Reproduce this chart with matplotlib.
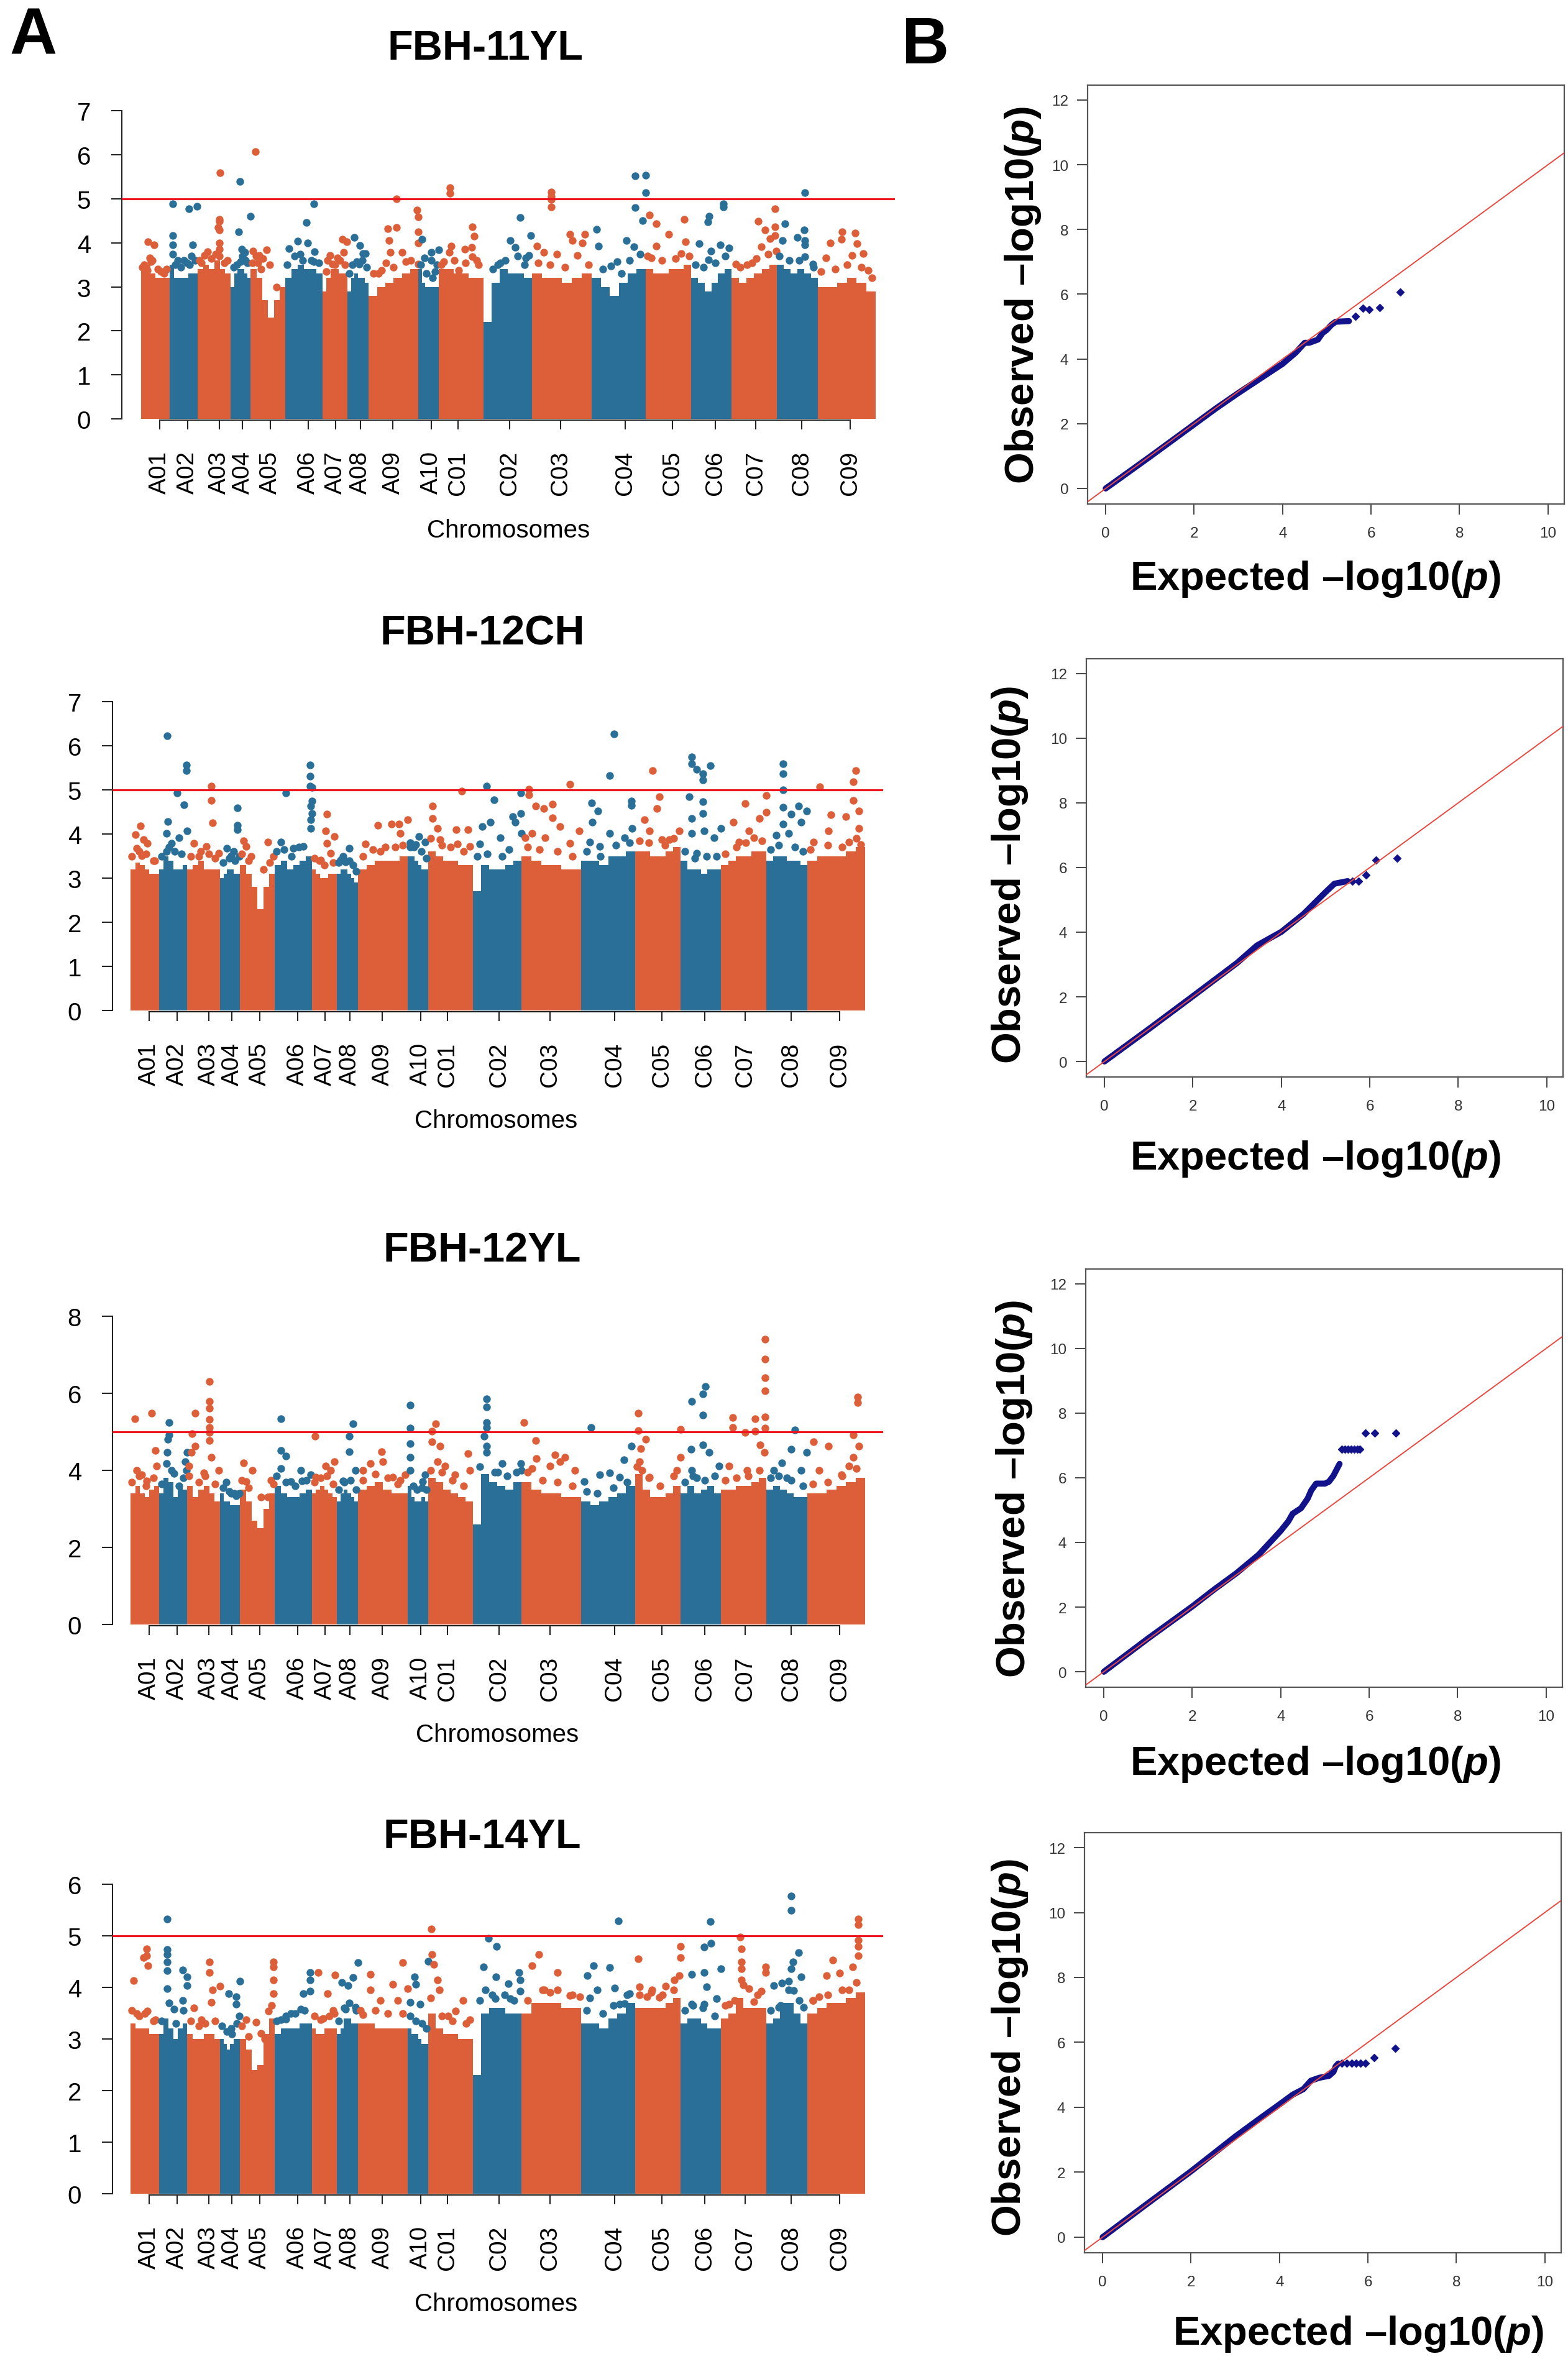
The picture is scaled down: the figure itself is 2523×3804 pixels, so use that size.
import numpy as np
import matplotlib
matplotlib.use("Agg")
import matplotlib.pyplot as plt

plt.rcParams['font.family'] = ['Liberation Sans', 'DejaVu Sans']
plt.rcParams['mathtext.fontset'] = 'custom'
plt.rcParams['mathtext.it'] = 'Liberation Sans:italic:bold'
plt.rcParams['mathtext.rm'] = 'Liberation Sans:bold'

# ---------------- data ----------------
chromosomes = ["A01", "A02", "A03", "A04", "A05", "A06", "A07", "A08", "A09", "A10",
               "C01", "C02", "C03", "C04", "C05", "C06", "C07", "C08", "C09"]
chrom_width = [57, 57, 66, 40, 70, 74, 50, 43, 100, 41, 89, 98, 120, 108, 92, 80, 92, 82, 116]
chrom_tick = [37, 94, 157, 204, 260, 336, 390, 440, 506, 583, 637, 740, 842, 972, 1067, 1153, 1234, 1326, 1424]

traits = ["FBH-11YL", "FBH-12CH", "FBH-12YL", "FBH-14YL"]
y_max = [7, 7, 8, 6]
y_step = [1, 1, 2, 1]
threshold = 5

# height of the dense SNP mass of each chromosome (-log10 p), read in 6 equal bins
body_11YL = [
    [3.4, 3.5, 3.3, 3.2, 3.2, 3.2], [3.5, 3.2, 3.2, 3.2, 3.3, 3.3], [3.4, 3.5, 3.4, 3.6, 3.4, 3.3],
    [3.0, 3.3, 3.4, 3.4, 3.3, 3.2], [3.4, 3.2, 2.7, 2.3, 2.7, 3.0], [3.2, 3.4, 3.5, 3.4, 3.4, 3.3],
    [2.9, 3.2, 3.4, 3.4, 3.3, 3.3], [2.9, 3.2, 3.3, 3.2, 3.2, 3.1], [2.8, 3.0, 3.1, 3.2, 3.3, 3.4],
    [3.4, 3.1, 3.0, 3.0, 3.0, 3.0], [3.4, 3.4, 3.3, 3.3, 3.2, 3.2], [2.2, 3.1, 3.4, 3.3, 3.3, 3.2],
    [3.3, 3.2, 3.2, 3.1, 3.2, 3.3], [3.2, 3.0, 2.8, 3.1, 3.3, 3.4], [3.4, 3.3, 3.3, 3.4, 3.4, 3.5],
    [3.2, 3.1, 2.9, 3.1, 3.3, 3.4], [3.2, 3.1, 3.2, 3.3, 3.4, 3.5], [3.5, 3.4, 3.3, 3.4, 3.3, 3.2],
    [3.0, 3.0, 3.1, 3.2, 3.1, 2.9]]
body_12CH = [
    [3.2, 3.35, 3.3, 3.2, 3.1, 3.1], [3.2, 3.5, 3.4, 3.2, 3.2, 3.3], [3.2, 3.3, 3.4, 3.2, 3.2, 3.2],
    [3.0, 3.1, 3.2, 3.2, 3.1, 3.1], [3.3, 3.1, 2.8, 2.3, 2.8, 3.1], [3.3, 3.4, 3.2, 3.3, 3.4, 3.5],
    [3.2, 3.1, 3.0, 3.0, 3.1, 3.1], [3.1, 3.2, 3.2, 3.1, 3.0, 2.9], [3.2, 3.3, 3.4, 3.4, 3.4, 3.5],
    [3.5, 3.5, 3.4, 3.3, 3.2, 3.2], [3.6, 3.5, 3.4, 3.4, 3.3, 3.3], [2.7, 3.3, 3.2, 3.2, 3.3, 3.4],
    [3.5, 3.4, 3.3, 3.3, 3.2, 3.2], [3.4, 3.4, 3.3, 3.5, 3.5, 3.6], [3.6, 3.6, 3.5, 3.5, 3.6, 3.7],
    [3.4, 3.2, 3.2, 3.1, 3.2, 3.2], [3.3, 3.4, 3.5, 3.5, 3.6, 3.6], [3.4, 3.5, 3.5, 3.4, 3.4, 3.3],
    [3.4, 3.5, 3.5, 3.5, 3.6, 3.7]]
body_12YL = [
    [3.4, 3.6, 3.4, 3.3, 3.5, 3.6], [3.4, 3.8, 3.7, 3.3, 3.6, 3.5], [3.6, 3.3, 3.5, 3.6, 3.4, 3.2],
    [3.4, 3.2, 3.2, 3.1, 3.1, 3.1], [3.5, 3.2, 2.7, 2.5, 3.0, 3.4], [3.6, 3.4, 3.3, 3.3, 3.4, 3.5],
    [3.4, 3.5, 3.6, 3.5, 3.4, 3.3], [3.2, 3.4, 3.5, 3.4, 3.3, 3.2], [3.5, 3.6, 3.7, 3.5, 3.4, 3.4],
    [3.6, 3.3, 3.2, 3.2, 3.3, 3.2], [3.8, 3.7, 3.5, 3.4, 3.3, 3.2], [2.6, 3.9, 3.7, 3.6, 3.5, 3.7],
    [3.7, 3.5, 3.4, 3.4, 3.3, 3.3], [3.2, 3.1, 3.2, 3.3, 3.4, 3.6], [3.9, 3.5, 3.3, 3.3, 3.4, 3.6],
    [3.4, 3.6, 3.4, 3.5, 3.6, 3.4], [3.5, 3.5, 3.6, 3.6, 3.7, 3.8], [3.5, 3.6, 3.5, 3.4, 3.3, 3.3],
    [3.4, 3.4, 3.5, 3.6, 3.7, 3.8]]
body_14YL = [
    [3.3, 3.2, 3.2, 3.2, 3.1, 3.1], [3.1, 3.4, 3.2, 3.0, 3.2, 3.3], [3.1, 3.0, 3.0, 3.1, 3.1, 3.0],
    [3.0, 2.9, 2.8, 2.9, 3.0, 3.0], [3.0, 2.8, 2.4, 2.5, 3.1, 3.4], [3.1, 3.2, 3.2, 3.2, 3.3, 3.3],
    [3.2, 3.1, 3.1, 3.2, 3.2, 3.2], [3.1, 3.2, 3.4, 3.4, 3.3, 3.3], [3.3, 3.3, 3.2, 3.2, 3.2, 3.2],
    [3.2, 3.1, 3.1, 3.0, 2.9, 2.9], [3.5, 3.2, 3.1, 3.1, 3.0, 3.0], [2.3, 3.5, 3.6, 3.6, 3.5, 3.5],
    [3.5, 3.7, 3.7, 3.7, 3.6, 3.6], [3.3, 3.3, 3.2, 3.4, 3.5, 3.7], [3.6, 3.6, 3.6, 3.6, 3.7, 3.8],
    [3.3, 3.4, 3.4, 3.3, 3.2, 3.2], [3.4, 3.5, 3.8, 3.6, 3.6, 3.6], [3.3, 3.4, 3.7, 3.7, 3.5, 3.3],
    [3.5, 3.6, 3.7, 3.7, 3.8, 3.9]]

# individual SNPs standing out above the dense mass: (relative position in chromosome, -log10 p)
hits_11YL = {
    "A01": [(0.25, 4.03), (0.47, 3.96), (0.3, 3.66), (0.34, 3.57), (0.21, 3.37), (0.1, 3.5), (0.6, 3.4), (0.8, 3.3)],
    "A02": [(0.12, 4.88), (0.12, 4.16), (0.12, 3.95), (0.12, 3.75), (0.68, 4.78), (0.98, 4.83), (0.5, 3.6), (0.62, 3.55), (0.82, 3.95), (0.9, 3.6), (0.4, 3.45)],
    "A03": [(0.68, 5.59), (0.65, 4.54), (0.66, 4.49), (0.62, 4.35), (0.65, 4.3), (0.66, 4.0), (0.65, 3.86), (0.66, 3.7), (0.2, 3.71), (0.1, 3.55), (0.9, 3.6), (0.4, 3.65)],
    "A04": [(0.45, 5.39), (0.98, 4.61), (0.4, 4.25), (0.7, 3.79), (0.49, 3.57), (0.74, 3.6), (0.3, 3.5)],
    "A05": [(0.13, 6.08), (0.07, 3.81), (0.25, 3.71), (0.46, 3.84), (0.36, 3.64), (0.2, 3.55), (0.55, 3.5)],
    "A06": [(0.77, 4.89), (0.57, 4.47), (0.33, 4.04), (0.6, 4.0), (0.1, 3.87), (0.79, 3.8), (0.47, 3.6), (0.77, 3.57), (0.25, 3.7)],
    "A07": [(0.8, 4.08), (0.99, 4.03), (0.3, 3.71), (0.6, 3.66), (0.85, 3.79), (0.4, 3.52), (0.2, 3.6)],
    "A08": [(0.34, 4.13), (0.6, 3.94), (0.74, 3.76), (0.85, 3.76), (0.45, 3.57), (0.57, 3.52)],
    "A09": [(0.56, 5.0), (0.38, 4.32), (0.56, 4.35), (0.41, 4.05), (0.44, 3.79), (0.67, 3.79), (0.97, 4.75), (0.99, 4.59), (0.99, 4.25), (0.99, 4.0), (0.99, 3.52), (0.75, 3.57), (0.26, 3.37), (0.1, 3.3)],
    "A10": [(0.16, 4.08), (0.29, 3.66), (0.63, 3.79), (0.99, 3.84), (0.63, 3.6), (0.69, 3.2)],
    "C01": [(0.25, 5.25), (0.25, 5.13), (0.75, 4.36), (0.8, 4.15), (0.28, 3.93), (0.24, 3.79), (0.58, 3.86), (0.74, 3.9), (0.75, 3.69), (0.11, 3.57), (0.44, 3.37), (0.9, 3.5)],
    "C02": [(0.76, 4.58), (0.98, 4.17), (0.55, 4.05), (0.65, 3.9), (0.87, 3.66), (0.94, 3.71), (0.45, 3.6), (0.3, 3.5)],
    "C03": [(0.32, 5.15), (0.32, 5.05), (0.32, 4.98), (0.32, 4.81), (0.63, 4.2), (0.88, 4.2), (0.42, 3.74), (0.08, 3.93), (0.2, 3.79), (0.84, 4.0), (0.68, 4.05), (0.76, 3.71)],
    "C04": [(0.81, 5.52), (1.0, 5.53), (1.0, 5.14), (0.81, 4.8), (0.94, 4.5), (0.09, 4.31), (0.65, 4.06), (0.78, 3.91), (0.12, 3.93), (0.47, 3.57), (0.35, 3.47)],
    "C05": [(0.08, 4.63), (0.23, 4.43), (0.85, 4.54), (0.51, 4.2), (0.87, 4.03), (0.23, 3.93), (0.78, 3.76), (0.12, 3.66)],
    "C06": [(0.81, 4.88), (0.81, 4.81), (0.44, 4.6), (0.41, 4.48), (0.2, 3.98), (0.73, 3.96), (0.94, 3.88), (0.49, 3.81), (0.43, 3.62)],
    "C07": [(0.96, 4.77), (0.59, 4.49), (0.96, 4.36), (0.74, 4.3), (0.96, 4.16), (0.85, 4.1), (0.98, 3.81), (0.66, 3.91), (0.45, 3.54), (0.1, 3.52)],
    "C08": [(0.68, 5.14), (0.2, 4.44), (0.67, 4.3), (0.49, 4.13), (0.68, 4.05), (0.68, 3.96), (0.13, 4.05), (0.68, 3.69), (0.87, 3.52)],
    "C09": [(0.64, 4.23), (0.42, 4.25), (0.41, 4.08), (0.22, 4.0), (0.68, 3.98), (0.79, 3.76), (0.59, 3.71), (0.14, 3.66), (0.87, 3.37), (0.94, 3.2)],
}
hits_12CH = {
    "A01": [(0.35, 4.18), (0.18, 3.98), (0.47, 3.87), (0.6, 3.79), (0.21, 3.67), (0.39, 3.51), (0.8, 3.4)],
    "A02": [(0.30, 6.22), (0.65, 4.93), (0.88, 4.66), (0.98, 5.56), (0.98, 5.43), (0.32, 4.28), (0.26, 4.02), (0.44, 3.79), (0.7, 3.92), (0.99, 4.07), (0.26, 3.61)],
    "A03": [(0.73, 5.09), (0.73, 4.76), (0.76, 4.25), (0.2, 3.79), (0.58, 3.72), (0.95, 3.56), (0.35, 3.5)],
    "A04": [(0.88, 4.59), (0.88, 4.2), (0.88, 4.1), (0.35, 3.67), (0.68, 3.61), (0.55, 3.51)],
    "A05": [(0.1, 3.84), (0.17, 3.72), (0.79, 3.82), (0.67, 3.2), (0.31, 3.5)],
    "A06": [(0.95, 5.57), (0.95, 5.31), (0.95, 5.08), (1.0, 5.06), (0.3, 4.93), (1.0, 4.74), (0.97, 4.63), (1.0, 4.47), (0.97, 4.32), (0.97, 4.12), (0.16, 3.82), (0.5, 3.67), (0.77, 3.72)],
    "A07": [(0.6, 4.45), (0.56, 4.07), (0.9, 3.94), (0.6, 3.79), (0.76, 3.56), (0.36, 3.41)],
    "A08": [(0.58, 3.67), (0.19, 3.41), (0.42, 3.36), (0.77, 3.3)],
    "A09": [(1.0, 4.32), (0.82, 4.23), (0.67, 4.22), (0.4, 4.2), (0.85, 4.02), (0.15, 3.77), (0.45, 3.61), (0.75, 3.71)],
    "A10": [(0.54, 3.94), (0.85, 3.82), (0.12, 3.71), (0.37, 3.76)],
    "C01": [(0.75, 4.97), (0.1, 4.64), (0.1, 4.35), (0.63, 4.1), (0.9, 4.1), (0.21, 4.12), (0.66, 3.77), (0.94, 3.72), (0.27, 3.87)],
    "C02": [(0.29, 5.08), (0.44, 4.78), (0.99, 4.93), (0.99, 4.47), (0.82, 4.4), (0.87, 4.27), (0.2, 4.17), (0.36, 4.27), (1.0, 4.02), (0.56, 3.92), (0.15, 3.77)],
    "C03": [(0.12, 5.01), (0.12, 4.89), (0.81, 5.12), (0.24, 4.63), (0.37, 4.58), (0.52, 4.68), (0.52, 4.37), (0.64, 4.17), (0.18, 4.02), (0.97, 4.07), (0.81, 3.79), (0.39, 3.92), (0.06, 3.92)],
    "C04": [(0.61, 6.27), (0.53, 5.32), (0.19, 4.71), (0.31, 4.52), (0.2, 4.27), (0.93, 4.75), (0.93, 4.65), (0.94, 4.12), (0.53, 4.02), (0.81, 3.92), (0.16, 3.82), (0.34, 3.72)],
    "C05": [(0.38, 5.44), (0.53, 4.84), (0.48, 4.58), (0.21, 4.32), (0.32, 4.07), (0.59, 3.87), (0.75, 3.87), (0.97, 4.07)],
    "C06": [(0.28, 5.75), (0.28, 5.59), (0.4, 5.46), (0.55, 5.36), (0.55, 5.23), (0.74, 5.55), (0.21, 4.84), (0.55, 4.73), (0.55, 4.47), (0.28, 4.35), (1.0, 4.12), (0.59, 4.07), (0.28, 4.02), (0.84, 3.92), (0.4, 3.56)],
    "C07": [(0.99, 4.88), (0.53, 4.69), (0.27, 4.27), (0.84, 4.35), (1.0, 4.5), (0.62, 4.07), (0.73, 3.92), (0.4, 3.82)],
    "C08": [(0.40, 5.59), (0.40, 5.36), (0.40, 5.0), (0.40, 4.6), (0.40, 4.22), (0.79, 4.64), (0.98, 4.52), (0.61, 4.45), (0.24, 3.97), (0.85, 4.27), (0.55, 4.02)],
    "C09": [(0.22, 5.07), (0.84, 5.44), (0.8, 5.19), (0.8, 4.76), (0.89, 4.52), (0.41, 4.44), (0.67, 4.4), (0.89, 4.12), (0.37, 4.07), (0.72, 3.82), (0.11, 3.82), (0.93, 3.76)],
}
hits_12YL = {
    "A01": [(0.16, 5.34), (0.74, 5.48), (0.88, 4.52), (0.21, 4.0), (0.39, 3.88), (0.56, 3.72), (0.91, 4.11)],
    "A02": [(0.35, 5.24), (0.35, 4.92), (0.32, 4.81), (0.3, 4.46), (0.26, 4.17), (0.93, 4.23), (1.0, 4.46), (0.96, 4.0), (0.53, 3.92)],
    "A03": [(0.68, 6.31), (0.68, 5.79), (0.68, 5.62), (0.68, 5.33), (0.68, 5.12), (0.68, 4.98), (0.68, 4.78), (0.24, 5.48), (0.15, 4.95), (0.24, 4.63), (0.12, 4.46), (0.73, 4.34), (0.95, 4.0), (0.5, 3.94), (0.05, 4.11)],
    "A04": [(0.3, 3.69), (0.55, 3.4), (0.8, 3.34)],
    "A05": [(0.11, 4.2), (0.36, 4.0), (0.17, 3.71), (0.89, 3.75), (0.6, 3.3)],
    "A06": [(0.16, 5.34), (0.16, 4.52), (0.3, 4.37), (0.16, 4.05), (0.7, 4.0), (0.74, 3.73), (0.97, 3.88), (0.43, 3.71)],
    "A07": [(0.12, 4.89), (0.9, 4.23), (0.56, 4.11), (0.16, 3.82), (0.76, 4.0)],
    "A08": [(0.77, 5.21), (0.6, 4.88), (0.58, 4.49), (0.88, 4.0), (0.3, 3.73)],
    "A09": [(0.47, 4.49), (0.5, 4.23), (0.25, 4.17), (0.1, 4.0), (0.95, 3.88), (0.7, 3.82), (0.85, 3.75)],
    "A10": [(0.12, 5.7), (0.12, 5.1), (0.12, 4.69), (0.12, 4.34), (0.12, 4.0), (0.85, 3.88), (0.73, 3.71)],
    "C01": [(0.16, 5.21), (0.08, 5.01), (0.08, 4.75), (0.27, 4.63), (0.89, 4.43), (0.21, 4.23), (0.38, 4.11), (0.94, 4.0), (0.6, 3.88)],
    "C02": [(0.29, 5.85), (0.29, 5.65), (0.29, 5.24), (0.29, 5.12), (0.23, 4.88), (0.29, 4.63), (0.29, 4.46), (0.61, 4.17), (0.99, 4.17), (1.0, 4.0), (0.51, 3.95)],
    "C03": [(0.04, 5.24), (0.24, 4.78), (0.25, 4.31), (0.56, 4.4), (0.64, 4.23), (0.73, 4.34), (0.89, 4.0), (0.18, 4.05), (0.48, 4.11)],
    "C04": [(0.18, 5.11), (0.93, 4.63), (0.8, 4.28), (0.53, 3.94), (0.34, 3.88), (0.06, 3.71), (0.71, 3.82)],
    "C05": [(0.07, 5.48), (0.07, 5.04), (0.23, 4.81), (0.13, 4.57), (0.1, 4.23), (0.15, 4.0), (0.99, 5.07), (0.99, 4.34), (0.91, 4.0), (0.32, 3.82)],
    "C06": [(0.61, 6.17), (0.55, 5.99), (0.28, 5.79), (0.55, 5.44), (0.56, 4.66), (0.25, 4.55), (0.71, 4.46), (0.28, 4.0), (0.96, 4.11), (0.4, 3.81)],
    "C07": [(0.97, 7.41), (0.97, 6.89), (0.97, 6.4), (0.97, 6.06), (0.97, 5.39), (0.97, 5.1), (0.75, 5.34), (0.75, 5.01), (0.26, 5.37), (0.26, 5.12), (0.53, 4.98), (0.86, 4.66), (0.57, 4.0), (0.18, 4.11), (0.95, 4.46)],
    "C08": [(0.7, 5.05), (0.61, 4.55), (0.98, 4.46), (0.37, 4.2), (0.18, 4.0), (0.85, 4.0), (0.49, 3.81)],
    "C09": [(0.87, 5.91), (0.87, 5.76), (0.8, 4.92), (0.89, 4.63), (0.37, 4.63), (0.11, 4.75), (0.8, 4.34), (0.59, 3.88), (0.72, 4.11), (0.2, 4.0)],
}
hits_14YL = {
    "A01": [(0.56, 4.75), (0.56, 4.62), (0.61, 4.42), (0.47, 4.58), (0.12, 4.13), (0.6, 3.54), (0.21, 3.49), (0.88, 3.37)],
    "A02": [(0.3, 5.32), (0.3, 4.73), (0.3, 4.64), (0.3, 4.49), (0.3, 4.32), (0.84, 4.34), (0.99, 4.21), (0.99, 4.04), (0.84, 3.75), (0.53, 3.58), (0.3, 3.97)],
    "A03": [(0.68, 4.49), (0.68, 4.29), (0.77, 3.95), (0.99, 4.02), (0.2, 3.6), (0.42, 3.37), (0.73, 3.71)],
    "A04": [(0.98, 4.12), (0.43, 3.88), (0.8, 3.82), (0.8, 3.67), (0.95, 3.45), (0.55, 3.21)],
    "A05": [(0.96, 4.49), (0.96, 4.4), (0.96, 4.14), (0.96, 3.88), (0.17, 3.37), (0.46, 3.32), (0.81, 3.54), (0.6, 3.11)],
    "A06": [(0.95, 4.29), (0.95, 4.14), (0.77, 3.88), (0.95, 3.93), (0.7, 3.58), (0.43, 3.49), (0.16, 3.37), (0.3, 3.39)],
    "A07": [(0.26, 4.29), (0.92, 4.24), (0.62, 3.88), (0.86, 3.56), (0.36, 3.37)],
    "A08": [(1.0, 4.48), (0.77, 4.19), (0.23, 4.1), (0.53, 4.04), (0.88, 3.62), (0.42, 3.58)],
    "A09": [(0.9, 4.48), (0.7, 4.06), (0.25, 4.25), (0.25, 3.95), (0.45, 3.75), (0.8, 3.75), (1.0, 3.97), (0.1, 3.47)],
    "A10": [(0.32, 4.21), (0.37, 4.06), (0.12, 3.71), (0.61, 3.67), (1.0, 4.51)],
    "C01": [(0.07, 5.13), (0.08, 4.64), (0.12, 4.45), (0.21, 4.14), (0.25, 3.95), (0.78, 3.75), (0.44, 3.45), (0.94, 3.37), (0.61, 3.54)],
    "C02": [(0.33, 4.95), (0.49, 4.8), (0.22, 4.4), (0.48, 4.21), (0.26, 3.95), (0.73, 4.07), (0.95, 4.29), (0.97, 4.14), (0.97, 3.93), (0.46, 3.78), (0.77, 3.78)],
    "C03": [(0.29, 4.64), (0.18, 4.42), (0.6, 4.29), (0.38, 3.95), (0.48, 3.9), (0.81, 3.84), (0.98, 3.82)],
    "C04": [(0.69, 5.29), (0.23, 4.42), (0.53, 4.38), (0.11, 4.23), (0.3, 3.95), (0.62, 3.99), (0.9, 3.88), (0.16, 3.8), (0.71, 3.67), (0.81, 3.69)],
    "C05": [(0.07, 4.55), (0.99, 4.79), (0.99, 4.58), (0.97, 4.23), (0.86, 4.14), (0.67, 4.02), (0.37, 3.95), (0.1, 4.01), (0.53, 3.81), (0.26, 3.82)],
    "C06": [(0.74, 5.28), (0.75, 4.86), (0.59, 4.78), (0.59, 4.29), (0.28, 4.25), (1.0, 4.36), (0.65, 4.01), (0.9, 3.78), (0.28, 3.68), (0.59, 3.67)],
    "C07": [(0.43, 4.97), (0.45, 4.75), (0.45, 4.49), (0.45, 4.36), (0.45, 4.14), (0.98, 4.4), (0.98, 4.29), (0.89, 3.93), (0.18, 3.67), (0.62, 3.97), (0.73, 3.72)],
    "C08": [(0.61, 5.77), (0.61, 5.49), (0.79, 4.67), (0.65, 4.49), (0.61, 4.36), (0.85, 4.21), (0.55, 4.12), (0.18, 4.04), (0.37, 4.08), (0.67, 3.94), (0.91, 3.62), (0.3, 3.62)],
    "C09": [(0.88, 5.32), (0.88, 5.22), (0.88, 4.92), (0.88, 4.79), (0.88, 4.62), (0.44, 4.53), (0.56, 4.28), (0.78, 4.4), (0.33, 4.23), (0.72, 3.95), (0.2, 3.82), (0.1, 3.75)],
}

# SNPs forming the ragged top edge of the dense mass: (relative position, -log10 p)
fringe_11YL = {
    "A01": [(0.05, 3.45), (0.4, 3.6), (0.7, 3.35), (0.9, 3.4)], "A02": [(0.2, 3.5), (0.3, 3.6), (0.7, 3.5), (0.78, 3.7)],
    "A03": [(0.05, 3.6), (0.3, 3.8), (0.55, 3.75), (0.8, 3.55)], "A04": [(0.15, 3.45), (0.6, 3.7), (0.85, 3.55), (0.55, 3.85)],
    "A05": [(0.05, 3.55), (0.15, 3.7), (0.3, 3.4), (0.75, 3.0)], "A06": [(0.05, 3.5), (0.4, 3.75), (0.7, 3.6), (0.9, 3.55)],
    "A07": [(0.15, 3.35), (0.5, 3.5), (0.7, 3.6), (0.9, 3.5)], "A08": [(0.1, 3.3), (0.25, 3.5), (0.9, 3.45), (0.7, 3.6)],
    "A09": [(0.2, 3.3), (0.35, 3.55), (0.5, 3.45), (0.85, 3.6)], "A10": [(0.1, 3.5), (0.4, 3.3), (0.8, 3.35), (0.9, 3.5)],
    "C01": [(0.05, 3.5), (0.35, 3.6), (0.6, 3.55), (0.85, 3.6)], "C02": [(0.2, 3.4), (0.35, 3.55), (0.7, 3.7), (0.85, 3.5)],
    "C03": [(0.1, 3.55), (0.3, 3.5), (0.55, 3.45), (0.95, 3.5)], "C04": [(0.2, 3.4), (0.55, 3.3), (0.7, 3.6), (0.9, 3.75)],
    "C05": [(0.05, 3.7), (0.35, 3.6), (0.65, 3.65), (0.95, 3.7)], "C06": [(0.1, 3.5), (0.3, 3.45), (0.6, 3.55), (0.85, 3.7)],
    "C07": [(0.2, 3.45), (0.35, 3.5), (0.55, 3.65), (0.8, 3.75)], "C08": [(0.05, 3.7), (0.3, 3.6), (0.55, 3.6), (0.9, 3.45)],
    "C09": [(0.05, 3.35), (0.3, 3.4), (0.5, 3.5), (0.75, 3.45)],
}
fringe_12CH = {
    "A01": [(0.05, 3.5), (0.3, 3.6), (0.55, 3.55), (0.85, 3.4)], "A02": [(0.1, 3.5), (0.35, 3.7), (0.55, 3.6), (0.8, 3.55)],
    "A03": [(0.1, 3.5), (0.4, 3.6), (0.65, 3.55), (0.85, 3.45)], "A04": [(0.15, 3.35), (0.45, 3.45), (0.75, 3.4), (0.95, 3.5)],
    "A05": [(0.05, 3.55), (0.25, 3.4), (0.85, 3.35), (0.95, 3.5)], "A06": [(0.05, 3.6), (0.25, 3.65), (0.45, 3.5), (0.65, 3.7)],
    "A07": [(0.1, 3.45), (0.3, 3.4), (0.5, 3.3), (0.85, 3.35)], "A08": [(0.1, 3.35), (0.3, 3.5), (0.6, 3.4), (0.9, 3.15)],
    "A09": [(0.1, 3.5), (0.3, 3.65), (0.55, 3.7), (0.9, 3.75)], "A10": [(0.1, 3.8), (0.3, 3.7), (0.65, 3.6), (0.9, 3.45)],
    "C01": [(0.05, 3.9), (0.3, 3.75), (0.5, 3.7), (0.8, 3.6)], "C02": [(0.1, 3.5), (0.3, 3.55), (0.6, 3.5), (0.75, 3.65)],
    "C03": [(0.1, 3.7), (0.3, 3.65), (0.6, 3.6), (0.85, 3.5)], "C04": [(0.1, 3.6), (0.35, 3.5), (0.65, 3.75), (0.9, 3.8)],
    "C05": [(0.1, 3.85), (0.3, 3.8), (0.65, 3.75), (0.85, 3.9)], "C06": [(0.1, 3.6), (0.35, 3.45), (0.65, 3.5), (0.9, 3.5)],
    "C07": [(0.1, 3.55), (0.35, 3.7), (0.55, 3.8), (0.9, 3.85)], "C08": [(0.1, 3.65), (0.3, 3.75), (0.7, 3.7), (0.9, 3.6)],
    "C09": [(0.05, 3.65), (0.35, 3.75), (0.6, 3.7), (0.85, 3.9)],
}
fringe_12YL = {
    "A01": [(0.05, 3.7), (0.3, 3.85), (0.55, 3.6), (0.8, 3.8)], "A02": [(0.1, 3.65), (0.45, 4.0), (0.7, 3.6), (0.85, 3.8)],
    "A03": [(0.05, 3.85), (0.35, 3.7), (0.55, 3.85), (0.85, 3.65)], "A04": [(0.15, 3.55), (0.45, 3.45), (0.7, 3.4), (0.95, 3.4)],
    "A05": [(0.05, 3.75), (0.25, 3.55), (0.8, 3.3), (0.95, 3.65)], "A06": [(0.05, 3.85), (0.3, 3.7), (0.55, 3.6), (0.85, 3.75)],
    "A07": [(0.1, 3.7), (0.35, 3.8), (0.6, 3.85), (0.85, 3.65)], "A08": [(0.1, 3.5), (0.35, 3.7), (0.65, 3.75), (0.9, 3.5)],
    "A09": [(0.1, 3.75), (0.35, 3.9), (0.6, 3.8), (0.8, 3.65)], "A10": [(0.25, 3.6), (0.45, 3.5), (0.7, 3.55), (0.9, 3.5)],
    "C01": [(0.05, 4.0), (0.3, 3.95), (0.55, 3.75), (0.8, 3.6)], "C02": [(0.15, 4.1), (0.45, 3.95), (0.7, 3.85), (0.9, 3.95)],
    "C03": [(0.1, 3.95), (0.35, 3.75), (0.6, 3.7), (0.85, 3.6)], "C04": [(0.1, 3.45), (0.3, 3.4), (0.6, 3.55), (0.85, 3.7)],
    "C05": [(0.05, 4.1), (0.3, 3.8), (0.55, 3.6), (0.85, 3.85)], "C06": [(0.1, 3.7), (0.3, 3.85), (0.6, 3.75), (0.85, 3.85)],
    "C07": [(0.1, 3.75), (0.35, 3.8), (0.6, 3.85), (0.85, 4.0)], "C08": [(0.1, 3.8), (0.3, 3.85), (0.6, 3.75), (0.9, 3.6)],
    "C09": [(0.1, 3.65), (0.35, 3.7), (0.6, 3.85), (0.85, 4.05)],
}
fringe_14YL = {
    "A01": [(0.05, 3.55), (0.3, 3.45), (0.5, 3.5), (0.8, 3.35)], "A02": [(0.1, 3.35), (0.35, 3.7), (0.6, 3.3), (0.85, 3.55)],
    "A03": [(0.1, 3.35), (0.35, 3.25), (0.55, 3.3), (0.85, 3.35)], "A04": [(0.1, 3.25), (0.35, 3.15), (0.6, 3.1), (0.85, 3.3)],
    "A05": [(0.05, 3.25), (0.25, 3.05), (0.7, 3.0), (0.9, 3.65)], "A06": [(0.05, 3.35), (0.3, 3.45), (0.55, 3.5), (0.8, 3.55)],
    "A07": [(0.1, 3.45), (0.45, 3.4), (0.7, 3.45), (0.9, 3.5)], "A08": [(0.1, 3.35), (0.35, 3.6), (0.6, 3.7), (0.9, 3.55)],
    "A09": [(0.05, 3.55), (0.35, 3.55), (0.6, 3.5), (0.9, 3.5)], "A10": [(0.1, 3.45), (0.4, 3.35), (0.7, 3.3), (0.9, 3.2)],
    "C01": [(0.05, 3.8), (0.3, 3.45), (0.55, 3.35), (0.85, 3.3)], "C02": [(0.15, 3.75), (0.4, 3.85), (0.65, 3.85), (0.85, 3.75)],
    "C03": [(0.1, 3.75), (0.35, 3.95), (0.6, 3.95), (0.85, 3.85)], "C04": [(0.1, 3.55), (0.4, 3.5), (0.6, 3.65), (0.85, 3.85)],
    "C05": [(0.1, 3.85), (0.35, 3.9), (0.6, 3.85), (0.85, 3.95)], "C06": [(0.1, 3.55), (0.3, 3.65), (0.55, 3.6), (0.85, 3.45)],
    "C07": [(0.1, 3.65), (0.3, 3.75), (0.5, 4.05), (0.8, 3.85)], "C08": [(0.1, 3.55), (0.35, 3.65), (0.55, 3.95), (0.8, 3.75)],
    "C09": [(0.1, 3.75), (0.35, 3.85), (0.6, 3.95), (0.85, 4.1)],
}

# QQ plots: dense part of the curve and the individual top points
qq_11YL_exp = [0, 1, 2, 2.5, 3, 3.5, 4, 4.3, 4.5, 4.6, 4.8, 4.9, 5.0, 5.1, 5.2, 5.5]
qq_11YL_obs = [0, 0.98, 1.98, 2.48, 2.95, 3.4, 3.85, 4.2, 4.5, 4.5, 4.6, 4.8, 4.9, 5.05, 5.15, 5.17]
qq_11YL_top_exp = [5.65, 5.82, 5.96, 6.19, 6.66]
qq_11YL_top_obs = [5.32, 5.56, 5.53, 5.59, 6.07]

qq_12CH_exp = [0, 1, 2, 3, 3.45, 4, 4.5, 5, 5.2, 5.5]
qq_12CH_obs = [0, 1.0, 2.02, 3.05, 3.59, 4.01, 4.56, 5.24, 5.5, 5.58]
qq_12CH_top_exp = [5.61, 5.75, 5.92, 6.14, 6.62]
qq_12CH_top_obs = [5.58, 5.58, 5.77, 6.23, 6.28]

qq_12YL_exp = [0, 1, 2, 2.5, 3, 3.5, 4.0, 4.17, 4.27, 4.46, 4.61, 4.69, 4.8, 5.0, 5.09, 5.19, 5.33]
qq_12YL_obs = [0, 1.03, 2.02, 2.55, 3.05, 3.62, 4.36, 4.65, 4.89, 5.06, 5.36, 5.61, 5.82, 5.82, 5.88, 6.06, 6.43]
qq_12YL_top_exp = [5.38, 5.45, 5.52, 5.59, 5.66, 5.73, 5.79, 5.91, 6.13, 6.61]
qq_12YL_top_obs = [6.88, 6.88, 6.88, 6.88, 6.88, 6.88, 6.88, 7.39, 7.39, 7.39]

qq_14YL_exp = [0, 1, 2, 3, 3.5, 4, 4.3, 4.54, 4.71, 4.9, 5.12, 5.22, 5.27, 5.33]
qq_14YL_obs = [0, 1.02, 2.03, 3.1, 3.6, 4.09, 4.39, 4.56, 4.82, 4.91, 4.97, 5.09, 5.26, 5.35]
qq_14YL_top_exp = [5.41, 5.52, 5.63, 5.73, 5.83, 5.94, 6.14, 6.62]
qq_14YL_top_obs = [5.35, 5.35, 5.35, 5.35, 5.36, 5.36, 5.53, 5.81]

qq_xticks = [0, 2, 4, 6, 8, 10]
qq_yticks = [0, 2, 4, 6, 8, 10, 12]

# ---------------- figure ----------------
W, H = 2523, 3805
fig = plt.figure(figsize=(W / 100, H / 100), dpi=100)
ORANGE = "#DD5F39"
BLUE = "#2A6F98"
AXC = "#222222"


def axes_px(l, t, r, b):
    return fig.add_axes([l / W, 1 - b / H, (r - l) / W, (b - t) / H])


def ftext(x, y, s, **kw):
    fig.text(x / W, 1 - y / H, s, **kw)


bodies = [body_11YL, body_12CH, body_12YL, body_14YL]
hits = [hits_11YL, hits_12CH, hits_12YL, hits_14YL]
fringes = [fringe_11YL, fringe_12CH, fringe_12YL, fringe_14YL]
# (y-axis px, first data px, last data px, baseline px, px per unit)
m_layout = [(196, 227, 1409, 675, 70.8), (181, 210, 1392, 1627, 71),
            (181, 210, 1392, 2615, 62), (181, 210, 1392, 3531, 83)]
title_pos = [(781, 79), (776, 1021), (776, 2013), (776, 2957)]
xlab_pos = [(818, 854), (798, 1804), (800, 2792), (798, 3708)]

starts = np.concatenate([[0], np.cumsum(chrom_width)[:-1]])
total = float(np.sum(chrom_width))

for p in range(4):
    axl, dl, dr, y0, ppu = m_layout[p]
    sx = (dr - dl) / total
    pad_u = (dl - axl) / sx
    ylo, yhi = -0.03, y_max[p] + 0.3
    ax = axes_px(axl, y0 - yhi * ppu, dr + (dl - axl), y0 - ylo * ppu)
    ax.set_xlim(-pad_u, total + pad_u)
    ax.set_ylim(ylo, yhi)
    for i, name in enumerate(chromosomes):
        col = ORANGE if i % 2 == 0 else BLUE
        b = bodies[p][i]
        edges = starts[i] + np.linspace(0, chrom_width[i], len(b) + 1)
        ax.stairs(b, edges, baseline=0, fill=True, color=col, linewidth=0, zorder=1)
        pts = hits[p][name] + fringes[p][name]
        px = [starts[i] + f * chrom_width[i] for f, v in pts]
        py = [v for f, v in pts]
        ax.scatter(px, py, s=80, color=col, linewidths=0, zorder=2)
    ax.axhline(threshold, color="#EE1620", lw=2.3, zorder=3)
    for s in ["top", "right"]:
        ax.spines[s].set_visible(False)
    ax.spines["left"].set_bounds(0, y_max[p])
    ax.spines["bottom"].set_bounds(chrom_tick[0], chrom_tick[-1])
    for s in ["left", "bottom"]:
        ax.spines[s].set_linewidth(1.5)
        ax.spines[s].set_color(AXC)
    ax.set_xticks(chrom_tick)
    ax.set_xticklabels(chromosomes, rotation=90, fontsize=28)
    yt = np.arange(0, y_max[p] + 0.01, y_step[p])
    ax.set_yticks(yt)
    ax.set_yticklabels([str(int(v)) for v in yt], fontsize=29)
    ax.tick_params(axis="x", length=11, width=1.5, color=AXC, pad=24)
    ax.tick_params(axis="y", length=12, width=1.5, color=AXC, pad=24)
    ftext(*title_pos[p], traits[p], fontsize=48, fontweight="bold", ha="center", va="center")
    ftext(*xlab_pos[p], "Chromosomes", fontsize=29, ha="center", va="center")

# QQ plots
qq_exp = [qq_11YL_exp, qq_12CH_exp, qq_12YL_exp, qq_14YL_exp]
qq_obs = [qq_11YL_obs, qq_12CH_obs, qq_12YL_obs, qq_14YL_obs]
qq_top_exp = [qq_11YL_top_exp, qq_12CH_top_exp, qq_12YL_top_exp, qq_14YL_top_exp]
qq_top_obs = [qq_11YL_top_obs, qq_12CH_top_obs, qq_12YL_top_obs, qq_14YL_top_obs]
qq_box = [(1750, 138, 2517, 812), (1748, 1061, 2515, 1734),
          (1747, 2043, 2514, 2716), (1745, 2950, 2512, 3626)]
qq_xlab = [(2117, 932), (2117, 1865), (2117, 2839), (2186, 3756)]
qq_ylab = [(1646, 475), (1625, 1408), (1632, 2396), (1625, 3295)]
NAVY = "#12128A"

for p in range(4):
    ax = axes_px(*qq_box[p])
    ax.set_xlim(-0.41, 10.37)
    ax.set_ylim(-0.48, 12.46)
    ax.plot(qq_exp[p], qq_obs[p], color=NAVY, lw=7, solid_capstyle="round",
            solid_joinstyle="round", zorder=2)
    ax.plot(qq_top_exp[p], qq_top_obs[p], linestyle="none", marker="D", markersize=6.5,
            color=NAVY, zorder=2)
    ax.plot([-1, 12], [-1, 12], color="#E8483F", lw=1.4, zorder=3)
    ax.set_xticks(qq_xticks)
    ax.set_yticks(qq_yticks)
    ax.tick_params(axis="both", labelsize=17.5, labelcolor="#333333", color="#444444",
                   length=12, width=1.4)
    ax.tick_params(axis="x", pad=14)
    ax.tick_params(axis="y", pad=10)
    for s in ax.spines.values():
        s.set_linewidth(1.6)
        s.set_color("#555555")
    ftext(*qq_xlab[p], "Expected –log10($p$)", fontsize=47, fontweight="bold",
          ha="center", va="center")
    ftext(*qq_ylab[p], "Observed –log10($p$)", fontsize=47, fontweight="bold",
          ha="center", va="center", rotation=90)

ftext(54, 60, "A", fontsize=76, fontweight="bold", ha="center", va="center")
ftext(1489, 75, "B", fontsize=76, fontweight="bold", ha="center", va="center")

fig.savefig("out.png", dpi=100)
